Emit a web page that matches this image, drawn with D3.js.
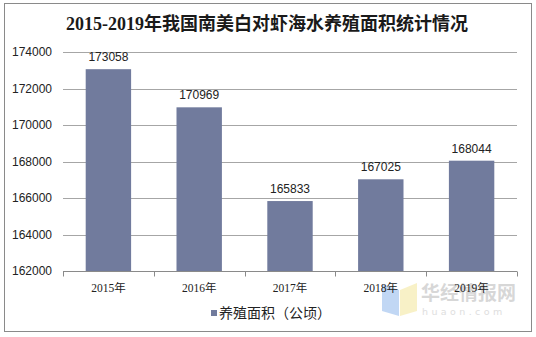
<!DOCTYPE html>
<html>
<head>
<meta charset="utf-8">
<script src="https://cdn.jsdelivr.net/npm/d3@7/dist/d3.min.js"></script>
<style>
  body { margin: 0; background: #fff; }
  svg { display: block; }
</style>
</head>
<body>
<svg id="chart" width="536" height="337"></svg>
<script>
// Mariculture area of Pacific white shrimp in China, 2015–2019 (hectares)
const years = ["2015年", "2016年", "2017年", "2018年", "2019年"];
const area = [173058, 170969, 165833, 167025, 168044];
const yTicks = [162000, 164000, 166000, 168000, 170000, 172000, 174000];
const titleText = "2015-2019年我国南美白对虾海水养殖面积统计情况";
const legendText = "养殖面积（公顷）";

const svg = d3.select("#chart");
const W = 536, H = 337;
const plot = { left: 63, right: 517, top: 52, bottom: 271 };
const barColor = "#717b9d";

svg.append("rect").attr("width", W).attr("height", H).attr("fill", "#fff");

// outer frame
svg.append("rect")
  .attr("x", 4.5).attr("y", 3.5).attr("width", 527).attr("height", 328)
  .attr("fill", "none").attr("stroke", "#8a8a8a").attr("stroke-width", 1);

// title
svg.append("text")
  .attr("x", 267).attr("y", 30)
  .attr("text-anchor", "middle")
  .attr("font-family", "'Liberation Serif', 'Noto Sans CJK SC', serif")
  .attr("font-weight", "bold")
  .attr("font-size", 18)
  .attr("fill", "#1a1a1a")
  .text(titleText);

const x = d3.scaleBand().domain(years).range([plot.left, plot.right]).paddingInner(0.5).paddingOuter(0.25);
const y = d3.scaleLinear().domain([162000, 174000]).range([plot.bottom, plot.top]);

// gridlines + y labels
const yAxis = d3.axisLeft(y).tickValues(yTicks).tickSize(0).tickPadding(11).tickFormat(d3.format("d"));
const gy = svg.append("g").attr("transform", `translate(${plot.left},0)`).call(yAxis);
gy.select(".domain").remove();
gy.selectAll("text")
  .attr("font-family", "'Liberation Sans', Arial, sans-serif")
  .attr("font-size", 12).attr("fill", "#222");

svg.append("g").selectAll("line").data(yTicks.filter(t => t !== 162000)).join("line")
  .attr("x1", plot.left).attr("x2", plot.right)
  .attr("y1", d => Math.round(y(d)) + 0.5).attr("y2", d => Math.round(y(d)) + 0.5)
  .attr("stroke", "#a6a6a6").attr("stroke-width", 1);

// bars
svg.append("g").selectAll("rect").data(area).join("rect")
  .attr("x", (d, i) => x(years[i]))
  .attr("width", x.bandwidth())
  .attr("y", d => y(d))
  .attr("height", d => y(162000) - y(d))
  .attr("fill", barColor);

// value labels
svg.append("g").selectAll("text").data(area).join("text")
  .attr("x", (d, i) => x(years[i]) + x.bandwidth() / 2)
  .attr("y", d => y(d) - 8)
  .attr("text-anchor", "middle")
  .attr("font-family", "'Liberation Sans', Arial, sans-serif")
  .attr("font-size", 12).attr("fill", "#222")
  .text(d => d);

// x axis baseline with boundary ticks
const xBase = Math.round(y(162000)) + 0.5;
svg.append("line")
  .attr("x1", plot.left).attr("x2", plot.right)
  .attr("y1", xBase).attr("y2", xBase)
  .attr("stroke", "#8a8a8a");
const bounds = d3.range(years.length + 1).map(i => plot.left + i * (plot.right - plot.left) / years.length);
svg.append("g").selectAll("line").data(bounds).join("line")
  .attr("x1", d => Math.round(d) + 0.5).attr("x2", d => Math.round(d) + 0.5)
  .attr("y1", xBase).attr("y2", xBase + 5)
  .attr("stroke", "#8a8a8a");

// watermark (drawn beneath the category labels)
const wm = svg.append("g").attr("opacity", 0.55);
wm.append("path").attr("d", "M382,284 L399,290 L399,316 L382,311 Z").attr("fill", "#8fb7ec");
wm.append("path").attr("d", "M400,290 L417,283 L417,311 L400,316 Z").attr("fill", "#f4e79a");
wm.append("text").attr("x", 421).attr("y", 300)
  .attr("font-family", "'Noto Sans CJK SC', sans-serif").attr("font-weight", "bold")
  .attr("font-size", 19).attr("fill", "#b8b8b8").text("华经情报网");
wm.append("text").attr("x", 422).attr("y", 315)
  .attr("font-family", "'DejaVu Sans', sans-serif")
  .attr("font-size", 9.5).attr("letter-spacing", 3.4).attr("fill", "#c4c4c4").text("huaon.com");

// category labels
svg.append("g").selectAll("text").data(years).join("text")
  .attr("x", d => x(d) + x.bandwidth() / 2)
  .attr("y", 292)
  .attr("text-anchor", "middle")
  .attr("font-family", "'Liberation Serif', 'Noto Sans CJK SC', serif")
  .attr("font-size", 11.5).attr("fill", "#222")
  .text(d => d);

// legend
svg.append("rect").attr("x", 211).attr("y", 310).attr("width", 6).attr("height", 6).attr("fill", barColor);
svg.append("text").attr("x", 219).attr("y", 318)
  .attr("font-family", "'Noto Sans CJK SC', sans-serif")
  .attr("font-size", 14).attr("fill", "#222")
  .text(legendText);
</script>
</body>
</html>
